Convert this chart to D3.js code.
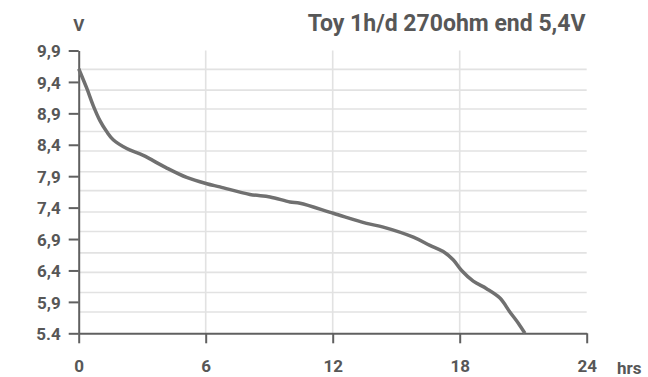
<!DOCTYPE html>
<html><head><meta charset="utf-8">
<script src="https://cdn.jsdelivr.net/npm/d3@7"></script>
<style>
html,body{margin:0;padding:0;background:#fff;}
svg{display:block;}
text{font-family:Roboto,"DejaVu Sans",sans-serif;font-weight:700;fill:#575757;}
</style></head>
<body>
<svg id="chart" width="648" height="377"></svg>
<script>
const title = "Toy 1h/d 270ohm end 5,4V";
const yAxisLabel = "V";
const xAxisLabel = "hrs";
const yTicks = [9.9, 9.4, 8.9, 8.4, 7.9, 7.4, 6.9, 6.4, 5.9, 5.4];
const yTickLabels = ["9,9", "9,4", "8,9", "8,4", "7,9", "7,4", "6,9", "6,4", "5,9", "5.4"];
const xTicks = [0, 6, 12, 18, 24];
const xTickLabels = ["0", "6", "12", "18", "24"];
const gridVolts = [9.60, 9.27, 8.97, 8.61, 8.30, 7.97, 7.67, 7.33, 7.02, 6.68, 6.37, 6.05, 5.74];
const gridHours = [6, 12, 18];
const hours = [0, 0.38, 0.69, 1.01, 1.32, 1.63, 2.27, 3.05, 4.10, 5.10, 6.05, 6.67, 8.09, 9.04, 9.98, 10.46, 12.03, 13.60, 14.39, 15.81, 16.59, 17.22, 17.69, 18.09, 18.64, 19.27, 19.90, 20.37, 20.77, 21.08];
const volts = [9.61, 9.30, 9.02, 8.78, 8.61, 8.48, 8.34, 8.23, 8.04, 7.88, 7.78, 7.73, 7.61, 7.57, 7.49, 7.47, 7.31, 7.15, 7.09, 6.93, 6.80, 6.70, 6.57, 6.40, 6.23, 6.11, 5.96, 5.74, 5.56, 5.40];

const svg = d3.select("#chart");
const x = d3.scaleLinear().domain([0, 24]).range([78.7, 586.7]);
const y = d3.scaleLinear().domain([5.4, 9.9]).range([333.3, 50.5]);

// grid
svg.append("g").selectAll("line").data(gridVolts).join("line")
  .attr("x1", x(0)).attr("x2", x(24))
  .attr("y1", d => y(d)).attr("y2", d => y(d))
  .attr("stroke", "#e2e2e2").attr("stroke-width", 1.6);
svg.append("g").selectAll("line").data(gridHours).join("line")
  .attr("x1", d => x(d)).attr("x2", d => x(d))
  .attr("y1", y(5.4)).attr("y2", y(9.9))
  .attr("stroke", "#e2e2e2").attr("stroke-width", 1.6);

// axes
const yAxis = d3.axisLeft(y).tickValues(yTicks)
  .tickFormat((d, i) => yTickLabels[i]).tickSize(10).tickSizeOuter(0).tickPadding(8);
const gy = svg.append("g").attr("transform", `translate(${x(0)},0)`).call(yAxis);
const xAxis = d3.axisBottom(x).tickValues(xTicks)
  .tickFormat((d, i) => xTickLabels[i]).tickSize(10).tickSizeOuter(0).tickPadding(17);
const gx = svg.append("g").attr("transform", `translate(0,${y(5.4)})`).call(xAxis);
[gx, gy].forEach(g => {
  g.select(".domain").attr("stroke", "#606060").attr("stroke-width", 2);
  g.selectAll(".tick line").attr("stroke", "#606060").attr("stroke-width", 2);
  g.selectAll(".tick text").attr("fill", "#575757")
    .style("font-family", "Roboto").style("font-weight", 700).style("font-size", "17px");
});
gy.selectAll(".tick text").attr("dy", "0.36em");

// curve
const line = d3.line().x(d => x(d[0])).y(d => y(d[1])).curve(d3.curveCatmullRom.alpha(0.5));
svg.append("path").datum(hours.map((h, i) => [h, volts[i]]))
  .attr("d", line).attr("fill", "none")
  .attr("stroke", "#707070").attr("stroke-width", 3.5).attr("stroke-linejoin", "round");

// labels
svg.append("text").attr("x", 585.5).attr("y", 31).attr("text-anchor", "end")
  .style("font-size", "23px").text(title);
svg.append("text").attr("x", x(0)).attr("y", 31).attr("text-anchor", "middle")
  .style("font-size", "17px").text(yAxisLabel);
svg.append("text").attr("x", 617).attr("y", 374)
  .style("font-size", "17px").text(xAxisLabel);
</script>
</body></html>
